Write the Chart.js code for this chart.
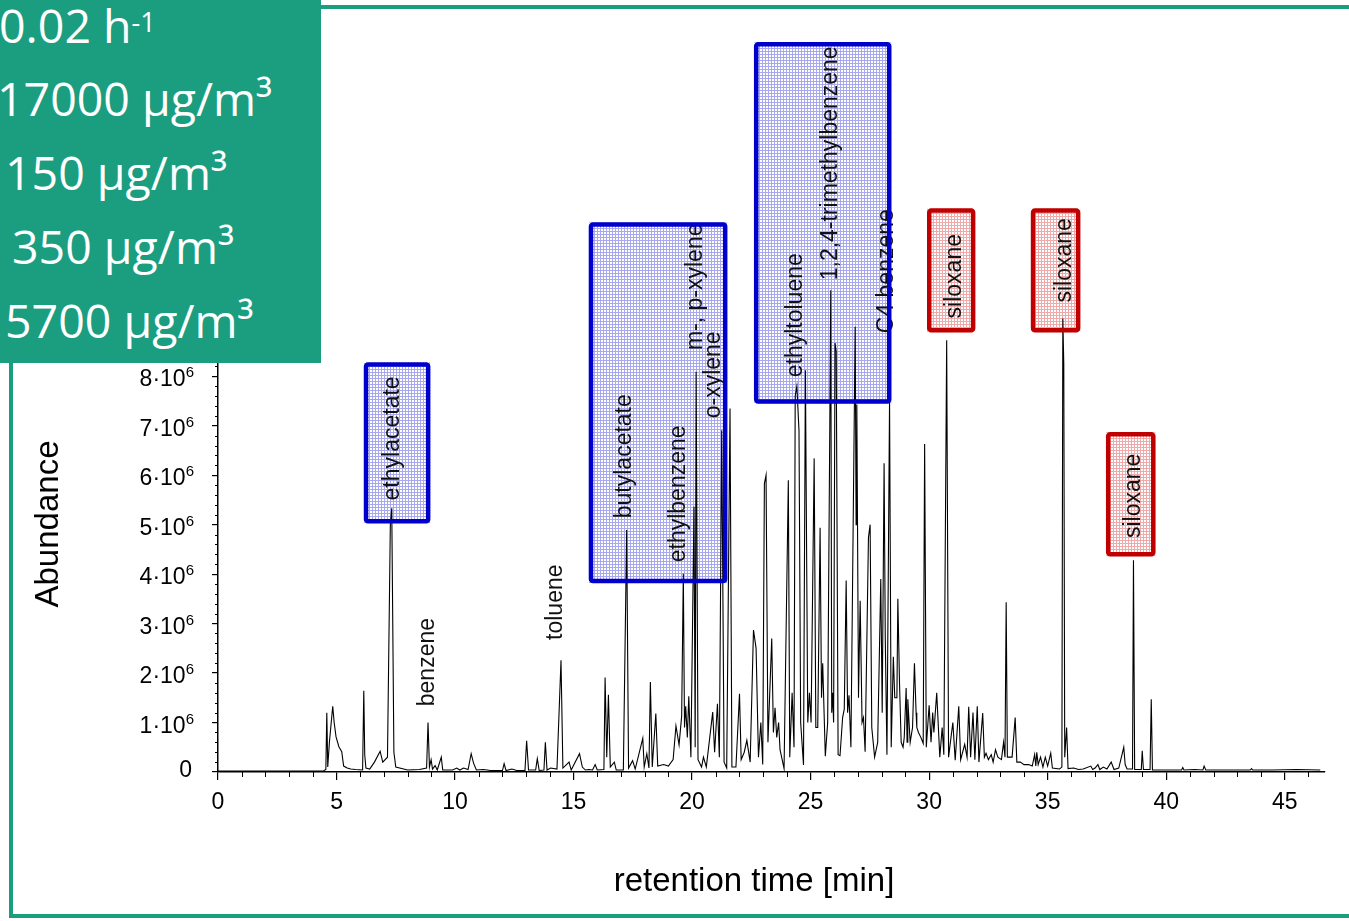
<!DOCTYPE html>
<html>
<head>
<meta charset="utf-8">
<script src="https://cdn.jsdelivr.net/npm/chart.js@4.4.1/dist/chart.umd.min.js"></script>
<style>
  html, body { margin: 0; padding: 0; background: #fff; overflow: hidden; }
  #wrap { position: relative; width: 1349px; height: 921px; overflow: hidden; }
  #chart { position: absolute; left: 0; top: 0; }
  #frame { position: absolute; left: 9px; top: 5px; width: 1400px; height: 913px; box-sizing: border-box; border: 4.5px solid #1b9d7f; }
  #panel { position: absolute; left: 0; top: 0; width: 321px; height: 363px; background: #1b9d7f; }
  #panel div { position: absolute; color: #fff; font-family: "Open Sans", sans-serif; font-size: 46.5px; line-height: 46px; white-space: nowrap; }
  #panel sup { font-size: 27px; position: relative; top: -3px; vertical-align: top; }
</style>
</head>
<body>
<div id="wrap">
  <canvas id="chart" width="1349" height="921"></canvas>
  <div id="frame"></div>
  <div id="panel"></div>
</div>
<script>
// chromatogram trace: [retention time (min), abundance (10^6)]
const chromatogram = [
  [0, 0.02], [4.45, 0.02], [4.55, 0.05], [4.59, 1.20], [4.63, 0.10], [4.70, 0.60], [4.84, 1.33], [4.90, 1.00],
  [4.98, 0.71], [5.10, 0.51], [5.22, 0.41], [5.30, 0.12], [5.45, 0.08], [5.60, 0.06], [5.80, 0.05], [6.10, 0.04],
  [6.15, 1.64], [6.19, 0.35], [6.24, 0.08], [6.40, 0.06], [6.60, 0.20], [6.84, 0.42], [6.95, 0.20], [7.15, 0.30],
  [7.27, 5.00], [7.33, 5.33], [7.42, 0.40], [7.50, 0.10], [8.00, 0.04], [8.50, 0.05], [8.80, 0.08], [8.86, 1.00],
  [8.92, 0.10], [8.99, 0.25], [9.05, 0.06], [9.16, 0.13], [9.25, 0.04], [9.42, 0.30], [9.48, 0.04], [9.90, 0.04],
  [10.07, 0.08], [10.20, 0.04], [10.36, 0.08], [10.55, 0.05], [10.68, 0.37], [10.78, 0.18], [10.90, 0.04], [11.20, 0.05],
  [11.50, 0.03], [12.00, 0.03], [12.07, 0.17], [12.15, 0.03], [12.40, 0.06], [12.60, 0.03], [12.95, 0.03], [13.02, 0.63],
  [13.10, 0.04], [13.40, 0.04], [13.47, 0.27], [13.55, 0.03], [13.75, 0.04], [13.81, 0.60], [13.88, 0.04], [14.03, 0.08],
  [14.30, 0.06], [14.47, 2.26], [14.55, 0.08], [14.81, 0.20], [14.90, 0.04], [15.25, 0.37], [15.37, 0.10], [15.50, 0.04],
  [15.64, 0.05], [15.80, 0.04], [15.91, 0.15], [16.00, 0.04], [16.28, 0.05], [16.33, 1.91], [16.40, 0.30], [16.47, 1.56],
  [16.55, 0.10], [16.72, 0.20], [16.80, 0.04], [17.10, 0.04], [17.24, 4.89], [17.32, 0.08], [17.49, 0.23], [17.60, 0.06],
  [17.92, 0.68], [17.98, 0.10], [18.09, 0.37], [18.18, 0.08], [18.24, 1.82], [18.32, 0.10], [18.47, 1.18], [18.55, 0.12],
  [18.80, 0.15], [19.00, 0.12], [19.20, 0.25], [19.32, 0.93], [19.45, 0.55], [19.56, 1.13], [19.63, 4.01], [19.68, 0.90],
  [19.73, 1.33], [19.80, 0.70], [19.86, 1.53], [19.95, 0.30], [20.08, 5.36], [20.13, 0.50], [20.17, 8.09], [20.25, 0.25],
  [20.40, 0.10], [20.48, 0.30], [20.60, 0.10], [20.87, 1.21], [20.95, 0.40], [21.07, 1.38], [21.15, 0.30], [21.25, 6.91],
  [21.35, 0.20], [21.46, 0.08], [21.60, 7.35], [21.68, 0.10], [21.85, 0.10], [22.00, 1.58], [22.07, 0.25], [22.20, 0.40],
  [22.31, 0.64], [22.45, 0.20], [22.59, 2.87], [22.70, 2.50], [22.80, 0.30], [22.90, 1.00], [22.98, 0.15], [23.05, 5.83],
  [23.12, 6.00], [23.20, 0.60], [23.36, 2.70], [23.43, 0.80], [23.50, 1.30], [23.57, 0.70], [23.65, 1.00], [23.71, 0.45],
  [23.88, 0.07], [24.06, 5.90], [24.12, 0.30], [24.22, 1.60], [24.30, 0.50], [24.35, 7.60], [24.42, 7.80], [24.51, 6.90],
  [24.58, 1.00], [24.70, 0.14], [24.78, 8.12], [24.88, 1.00], [24.95, 1.60], [25.02, 1.00], [25.15, 6.34], [25.22, 0.90],
  [25.30, 0.90], [25.40, 4.94], [25.46, 1.50], [25.51, 2.20], [25.62, 0.32], [25.72, 1.00], [25.85, 9.74], [25.89, 1.20],
  [25.93, 1.60], [25.97, 1.00], [26.03, 8.67], [26.08, 8.50], [26.16, 0.35], [26.24, 0.33], [26.35, 1.10], [26.42, 1.27],
  [26.50, 3.87], [26.56, 1.20], [26.62, 1.55], [26.70, 0.50], [26.88, 9.00], [26.92, 5.00], [26.95, 7.43], [27.02, 1.50],
  [27.09, 3.46], [27.17, 1.00], [27.23, 1.10], [27.30, 0.41], [27.44, 4.74], [27.51, 5.00], [27.58, 0.90], [27.70, 0.30],
  [27.83, 0.60], [27.96, 3.90], [28.02, 1.20], [28.10, 6.24], [28.15, 2.70], [28.22, 0.35], [28.33, 7.50], [28.40, 0.50],
  [28.49, 2.33], [28.55, 1.50], [28.64, 1.50], [28.68, 3.50], [28.75, 1.80], [28.82, 0.60], [28.90, 0.50], [28.95, 0.70],
  [29.03, 1.70], [29.07, 0.60], [29.10, 1.47], [29.20, 0.60], [29.30, 0.90], [29.38, 2.20], [29.45, 1.20], [29.48, 0.90],
  [29.55, 0.80], [29.65, 0.70], [29.75, 0.58], [29.81, 6.63], [29.88, 0.50], [30.00, 1.35], [30.08, 0.60], [30.15, 1.20],
  [30.20, 0.80], [30.32, 1.60], [30.45, 0.30], [30.55, 0.90], [30.62, 0.35], [30.74, 8.73], [30.82, 0.30], [31.00, 1.00],
  [31.10, 0.24], [31.25, 1.33], [31.33, 0.25], [31.50, 0.56], [31.60, 0.30], [31.67, 1.32], [31.75, 0.30], [31.85, 1.20],
  [31.93, 0.25], [32.03, 1.33], [32.10, 0.20], [32.26, 1.19], [32.33, 0.30], [32.40, 0.38], [32.50, 0.25], [32.62, 0.35],
  [32.70, 0.20], [32.80, 0.45], [32.90, 0.30], [33.05, 0.25], [33.14, 0.60], [33.20, 0.30], [33.25, 3.43], [33.30, 0.30],
  [33.50, 0.30], [33.63, 1.10], [33.70, 0.20], [33.85, 0.20], [34.00, 0.15], [34.20, 0.15], [34.35, 0.12], [34.45, 0.35],
  [34.50, 0.12], [34.54, 0.40], [34.60, 0.15], [34.70, 0.30], [34.80, 0.10], [34.90, 0.30], [35.00, 0.12], [35.13, 0.38],
  [35.20, 0.08], [35.50, 0.06], [35.60, 0.10], [35.64, 9.17], [35.68, 8.26], [35.72, 0.30], [35.80, 0.90], [35.86, 0.07],
  [36.10, 0.08], [36.30, 0.05], [36.50, 0.06], [36.82, 0.12], [36.90, 0.05], [37.00, 0.08], [37.12, 0.15], [37.20, 0.05],
  [37.35, 0.10], [37.50, 0.06], [37.68, 0.20], [37.80, 0.05], [38.00, 0.08], [38.21, 0.50], [38.27, 0.15], [38.35, 0.06],
  [38.58, 0.06], [38.62, 4.28], [38.67, 0.05], [38.95, 0.05], [38.99, 0.43], [39.04, 0.05], [39.32, 0.05], [39.37, 1.47],
  [39.42, 0.04], [40.00, 0.04], [40.65, 0.04], [40.70, 0.09], [40.75, 0.04], [41.20, 0.05], [41.55, 0.04], [41.60, 0.12],
  [41.67, 0.04], [42.50, 0.04], [43.55, 0.04], [43.60, 0.07], [43.65, 0.04], [44.50, 0.04], [45.50, 0.05], [46.50, 0.04]
];

const xRange = [0, 46.7];
const yRange = [0, 15];
const yTickLabels = [0, 1, 2, 3, 4, 5, 6, 7, 8];

const summaryLines = [
  { text: "0.02 h", sup: "-1", left: -1, top: 2 },
  { text: "17000 \u00b5g/m\u00b3", left: -3, top: 75 },
  { text: "150 \u00b5g/m\u00b3", left: 5, top: 149 },
  { text: "350 \u00b5g/m\u00b3", left: 12, top: 223 },
  { text: "5700 \u00b5g/m\u00b3", left: 5, top: 297 }
];

// highlighted groups: time span (min) and abundance span (10^6)
const boxes = [
  { t0: 6.16, t1: 8.95, a0: 5.03, a1: 8.28, kind: "blue" },
  { t0: 15.65, t1: 21.48, a0: 3.82, a1: 11.11, kind: "blue" },
  { t0: 22.62, t1: 28.40, a0: 7.45, a1: 14.75, kind: "blue" },
  { t0: 29.92, t1: 31.94, a0: 8.89, a1: 11.39, kind: "red" },
  { t0: 34.30, t1: 36.37, a0: 8.89, a1: 11.39, kind: "red" },
  { t0: 37.47, t1: 39.54, a0: 4.36, a1: 6.87, kind: "red" }
];

// compound names, written upwards from (t, a)
const compounds = [
  { name: "ethylacetate", t: 7.38, a: 5.49 },
  { name: "benzene", t: 8.86, a: 1.33 },
  { name: "toluene", t: 14.26, a: 2.67 },
  { name: "butylacetate", t: 17.17, a: 5.13 },
  { name: "ethylbenzene", t: 19.45, a: 4.24 },
  { name: "m-, p-xylene", t: 20.17, a: 8.53 },
  { name: "o-xylene", t: 20.93, a: 7.15 },
  { name: "ethyltoluene", t: 24.35, a: 7.98 },
  { name: "1,2,4-trimethylbenzene", t: 25.83, a: 9.94 },
  { name: "C4 benzene", t: 28.21, a: 8.87 },
  { name: "siloxane", t: 31.06, a: 9.17 },
  { name: "siloxane", t: 35.71, a: 9.49 },
  { name: "siloxane", t: 38.61, a: 4.73 }
];

const FONT = '"Liberation Sans", Arial, sans-serif';

const panel = document.getElementById("panel");
summaryLines.forEach(l => {
    const d = document.createElement("div");
    d.style.left = l.left + "px";
    d.style.top = l.top + "px";
    d.textContent = l.text;
    if (l.sup) {
        const s = document.createElement("sup");
        s.textContent = l.sup;
        d.appendChild(s);
    }
    panel.appendChild(d);
});

const makePattern = (ctx, line) => {
    const c = document.createElement("canvas");
    c.width = 3; c.height = 3;
    const p = c.getContext("2d");
    p.fillStyle = "#ffffff";
    p.fillRect(0, 0, 3, 3);
    p.fillStyle = line;
    p.fillRect(0, 0, 3, 1);
    p.fillRect(0, 0, 1, 3);
    return ctx.createPattern(c, "repeat");
};

const boxRect = (b, x, y) => {
    const l = x.getPixelForValue(b.t0), r = x.getPixelForValue(b.t1);
    const top = y.getPixelForValue(b.a1), bot = y.getPixelForValue(b.a0);
    return { l, top, w: r - l, h: bot - top };
};

const decorations = {
    id: "decorations",
    beforeDatasetsDraw(chart) {
        const { ctx, scales: { x, y } } = chart;
        const fills = { blue: makePattern(ctx, "#a8a8ef"), red: makePattern(ctx, "#eeaaaa") };
        ctx.save();
        boxes.forEach(b => {
            const r = boxRect(b, x, y);
            ctx.fillStyle = fills[b.kind];
            ctx.fillRect(r.l, r.top, r.w, r.h);
        });
        ctx.restore();
    },
    afterDatasetsDraw(chart) {
        const { ctx, scales: { x, y } } = chart;
        const x0 = x.getPixelForValue(0);
        const y0 = y.getPixelForValue(0);
        ctx.save();

        // minor ticks
        ctx.strokeStyle = "#000";
        ctx.lineWidth = 1;
        ctx.beginPath();
        for (let m = 1; m < xRange[1]; m++) {
            if (m % 5 === 0) continue;
            const px = Math.round(x.getPixelForValue(m)) + 0.5;
            ctx.moveTo(px, y0);
            ctx.lineTo(px, y0 + 5);
        }
        for (let k = 1; k < yRange[1] * 5; k++) {
            if (k % 5 === 0) continue;
            const py = Math.round(y.getPixelForValue(k / 5)) + 0.5;
            ctx.moveTo(x0, py);
            ctx.lineTo(x0 - 3, py);
        }
        ctx.stroke();

        // y tick labels n·10^6
        ctx.fillStyle = "#000";
        ctx.textAlign = "right";
        ctx.textBaseline = "alphabetic";
        yTickLabels.forEach(v => {
            const py = y.getPixelForValue(v);
            if (v === 0) {
                ctx.font = "23px " + FONT;
                ctx.fillText("0", 192, py + 5);
                return;
            }
            ctx.font = "15px " + FONT;
            const supW = ctx.measureText("6").width;
            ctx.fillText("6", 194, py + 1);
            ctx.font = "23px " + FONT;
            ctx.fillText(v + "\u00b710", 194 - supW, py + 10);
        });

        // axis titles
        ctx.font = "33px " + FONT;
        ctx.textAlign = "center";
        ctx.textBaseline = "middle";
        ctx.fillText("retention time [min]", 754, 882);
        ctx.save();
        ctx.translate(49, 524);
        ctx.rotate(-Math.PI / 2);
        ctx.fillText("Abundance", 0, 0);
        ctx.restore();

        // compound names
        ctx.font = "23px " + FONT;
        ctx.fillStyle = "#111";
        ctx.textAlign = "left";
        ctx.textBaseline = "middle";
        compounds.forEach(c => {
            ctx.save();
            ctx.translate(x.getPixelForValue(c.t), y.getPixelForValue(c.a));
            ctx.rotate(-Math.PI / 2);
            ctx.fillText(c.name, 0, 0);
            ctx.restore();
        });

        // box outlines
        ctx.lineWidth = 4.5;
        boxes.forEach(b => {
            const r = boxRect(b, x, y);
            ctx.strokeStyle = b.kind === "blue" ? "#0000cc" : "#c00000";
            ctx.beginPath();
            ctx.roundRect(r.l + 2, r.top + 2, r.w - 4, r.h - 4, 2);
            ctx.stroke();
        });
        ctx.restore();
    }
};

new Chart(document.getElementById("chart"), {
    type: "line",
    data: {
        datasets: [{
            data: chromatogram.map(([t, a]) => ({ x: t, y: a })),
            borderColor: "#000",
            borderWidth: 1.1,
            pointRadius: 0,
            tension: 0,
            fill: false
        }]
    },
    options: {
        responsive: false,
        animation: false,
        events: [],
        layout: { padding: { left: 0, right: 24, top: 30, bottom: 0 } },
        plugins: { legend: { display: false }, tooltip: { enabled: false } },
        scales: {
            x: {
                type: "linear",
                min: xRange[0],
                max: xRange[1],
                afterFit: s => { s.height = 149; },
                ticks: { stepSize: 5, includeBounds: false, color: "#000", padding: 9, maxRotation: 0, autoSkip: false,
                         font: { family: FONT, size: 23 } },
                grid: { drawOnChartArea: false, tickLength: 8, color: "#000", lineWidth: 1.2 },
                border: { color: "#000", width: 1.5 }
            },
            y: {
                min: yRange[0],
                max: yRange[1],
                afterFit: s => { s.width = 218; },
                ticks: { stepSize: 1, display: false },
                grid: { drawOnChartArea: false, tickLength: 6, color: "#000", lineWidth: 1.2 },
                border: { color: "#000", width: 1.5 }
            }
        }
    },
    plugins: [decorations]
});
</script>
</body>
</html>
